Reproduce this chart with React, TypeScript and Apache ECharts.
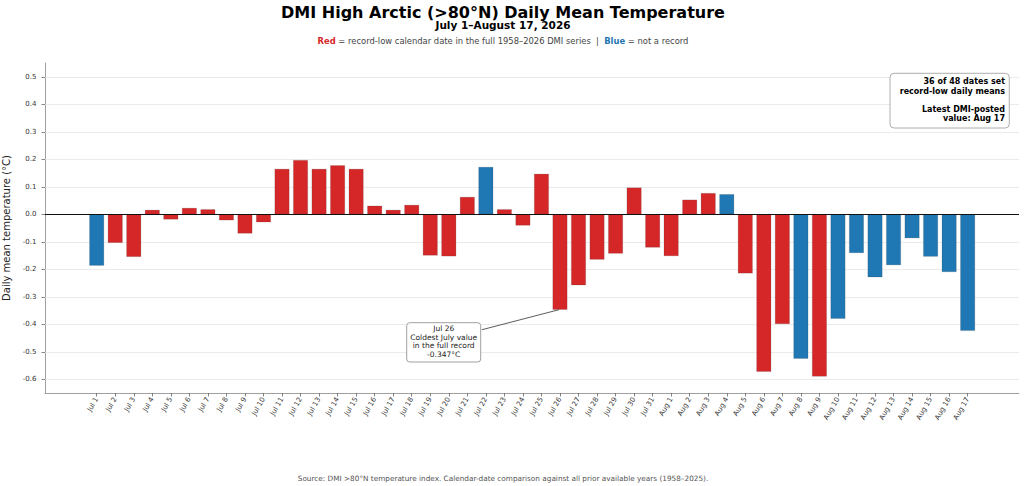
import React, { useEffect, useRef } from "react";
import * as echarts from "echarts";

const categories: string[] = [
  "Jul 1", "Jul 2", "Jul 3", "Jul 4", "Jul 5", "Jul 6", "Jul 7", "Jul 8", "Jul 9", "Jul 10",
  "Jul 11", "Jul 12", "Jul 13", "Jul 14", "Jul 15", "Jul 16", "Jul 17", "Jul 18", "Jul 19", "Jul 20",
  "Jul 21", "Jul 22", "Jul 23", "Jul 24", "Jul 25", "Jul 26", "Jul 27", "Jul 28", "Jul 29", "Jul 30",
  "Jul 31", "Aug 1", "Aug 2", "Aug 3", "Aug 4", "Aug 5", "Aug 6", "Aug 7", "Aug 8", "Aug 9",
  "Aug 10", "Aug 11", "Aug 12", "Aug 13", "Aug 14", "Aug 15", "Aug 16", "Aug 17",
];

const meanTemps: number[] = [
  -0.187, -0.104, -0.155, 0.016, -0.019, 0.023, 0.018, -0.022, -0.07, -0.029,
  0.165, 0.197, 0.165, 0.178, 0.165, 0.031, 0.016, 0.034, -0.15, -0.153,
  0.063, 0.172, 0.018, -0.041, 0.147, -0.347, -0.258, -0.165, -0.143, 0.097,
  -0.121, -0.152, 0.053, 0.077, 0.073, -0.215, -0.573, -0.399, -0.525, -0.59,
  -0.38, -0.141, -0.229, -0.185, -0.087, -0.154, -0.21, -0.424,
];

// 1 = record-low calendar date (red), 0 = not a record (blue)
const isRecordLow: number[] = [
  0, 1, 1, 1, 1, 1, 1, 1, 1, 1,
  1, 1, 1, 1, 1, 1, 1, 1, 1, 1,
  1, 0, 1, 1, 1, 1, 1, 1, 1, 1,
  1, 1, 1, 1, 0, 1, 1, 1, 0, 1,
  0, 0, 0, 0, 0, 0, 0, 0,
];

const yTicks: number[] = [-0.6, -0.5, -0.4, -0.3, -0.2, -0.1, 0, 0.1, 0.2, 0.3, 0.4, 0.5];

const annotatedIndex = 25; // Jul 26

const RED = "#d62728";
const BLUE = "#1f77b4";
const FONT = "DejaVu Sans";

export default function App() {
  const ref = useRef<HTMLDivElement>(null);

  useEffect(() => {
    if (!ref.current) return;
    const chart = echarts.init(ref.current, undefined, { renderer: "svg" });
    const indices = categories.map((_, i) => i);

    const barData = meanTemps.map((v, i) => ({
      value: [i, v],
      itemStyle: { color: isRecordLow[i] ? RED : BLUE },
    }));

    const option: any = {
      animation: false,
      backgroundColor: "#ffffff",
      textStyle: { fontFamily: FONT },
      grid: {
        left: 45,
        right: 5,
        top: 63,
        bottom: 93,
        containLabel: false,
        outerBoundsMode: "none",
      },
      xAxis: {
        type: "value",
        min: -2.79,
        max: 49.77,
        splitLine: { show: false },
        axisLine: { show: true, onZero: false, lineStyle: { color: "#888", width: 0.8 } },
        axisTick: {
          show: true,
          customValues: indices,
          length: 3.5,
          lineStyle: { color: "#666", width: 0.8 },
        },
        axisLabel: {
          customValues: indices,
          formatter: (v: number) => categories[Math.round(v)] ?? "",
          rotate: 60,
          fontSize: 7,
          color: "#333",
          fontFamily: FONT,
          margin: 5,
        },
      },
      yAxis: {
        type: "value",
        min: -0.65,
        max: 0.55,
        name: "Daily mean temperature (°C)",
        nameLocation: "middle",
        nameRotate: 90,
        nameGap: 25,
        nameTextStyle: { fontSize: 10, color: "#222", fontFamily: FONT },
        splitLine: { show: false },
        axisLine: { show: true, onZero: false, lineStyle: { color: "#888", width: 0.8 } },
        axisTick: {
          show: true,
          customValues: yTicks,
          length: 3.5,
          lineStyle: { color: "#666", width: 0.8 },
        },
        axisLabel: {
          customValues: yTicks,
          formatter: (v: number) => v.toFixed(1),
          fontSize: 7,
          color: "#333",
          fontFamily: FONT,
          margin: 8.5,
        },
      },
      series: [
        {
          type: "line",
          data: [],
          z: 1,
          silent: true,
          markLine: {
            z: 1,
            silent: true,
            symbol: ["none", "none"],
            label: { show: false },
            lineStyle: { color: "#e6e6e6", width: 0.8, type: "solid" },
            data: yTicks.filter((t) => t !== 0).map((t) => ({ yAxis: t })),
          },
        },
        {
          type: "bar",
          data: barData,
          barWidth: 14.8,
          z: 2,
          itemStyle: { borderColor: "rgba(60,60,60,0.35)", borderWidth: 0.5 },
        },
        {
          type: "line",
          data: [],
          z: 4,
          silent: true,
          markLine: {
            z: 4,
            silent: true,
            symbol: ["none", "none"],
            label: { show: false },
            lineStyle: { color: "#111", width: 1, type: "solid" },
            data: [{ yAxis: 0 }],
          },
        },
        {
          type: "line",
          data: [],
          z: 5,
          silent: true,
          markLine: {
            z: 5,
            silent: true,
            symbol: ["none", "arrow"],
            symbolSize: [0, 6],
            label: { show: false },
            lineStyle: { color: "#333", width: 0.8, type: "solid" },
            data: [
              [
                { coord: [20.78, -0.42] },
                { coord: [annotatedIndex - 0.05, meanTemps[annotatedIndex]] },
              ],
            ],
          },
        },
      ],
      graphic: [
        {
          type: "text",
          z: 10,
          style: {
            text: "DMI High Arctic (>80°N) Daily Mean Temperature",
            x: 503,
            y: 12.5,
            align: "center",
            verticalAlign: "middle",
            fontFamily: FONT,
            fontWeight: "bold",
            fontSize: 16,
            fill: "#000",
          },
        },
        {
          type: "text",
          z: 11,
          style: {
            text: "July 1–August 17, 2026",
            x: 503,
            y: 25,
            align: "center",
            verticalAlign: "middle",
            fontFamily: FONT,
            fontWeight: "bold",
            fontSize: 10.5,
            fill: "#000",
          },
        },
        {
          type: "text",
          z: 10,
          style: {
            text: "{r|Red}{g| = record-low calendar date in the full 1958–2026 DMI series  |  }{b|Blue}{g| = not a record}",
            x: 503,
            y: 40.5,
            align: "center",
            verticalAlign: "middle",
            fontFamily: FONT,
            fontSize: 8.4,
            rich: {
              r: { fill: RED, fontWeight: "bold", fontSize: 8.4, fontFamily: FONT },
              b: { fill: BLUE, fontWeight: "bold", fontSize: 8.4, fontFamily: FONT },
              g: { fill: "#444", fontSize: 8.4, fontFamily: FONT },
            },
          },
        },
        {
          type: "rect",
          z: 10,
          shape: { x: 890, y: 73.3, width: 119.3, height: 54.7, r: 4 },
          style: { fill: "#fff", stroke: "#999", lineWidth: 0.8 },
        },
        {
          type: "text",
          z: 11,
          style: {
            text: "36 of 48 dates set\nrecord-low daily means\n\nLatest DMI-posted\nvalue: Aug 17",
            x: 1005,
            y: 100.2,
            align: "right",
            verticalAlign: "middle",
            fontFamily: FONT,
            fontWeight: "bold",
            fontSize: 8,
            lineHeight: 9.2,
            fill: "#000",
          },
        },
        {
          type: "rect",
          z: 10,
          shape: { x: 406.7, y: 322.7, width: 74, height: 39.3, r: 3 },
          style: { fill: "#fff", stroke: "#888", lineWidth: 0.8 },
        },
        {
          type: "text",
          z: 11,
          style: {
            text: "Jul 26\nColdest July value\nin the full record\n-0.347°C",
            x: 443.7,
            y: 341.5,
            align: "center",
            verticalAlign: "middle",
            fontFamily: FONT,
            fontSize: 7.5,
            lineHeight: 8.6,
            fill: "#222",
          },
        },
        {
          type: "text",
          z: 10,
          style: {
            text: "Source: DMI >80°N temperature index. Calendar-date comparison against all prior available years (1958–2025).",
            x: 503,
            y: 478,
            align: "center",
            verticalAlign: "middle",
            fontFamily: FONT,
            fontSize: 7.3,
            fill: "#555",
          },
        },
      ],
    };

    chart.setOption(option);
    return () => {
      chart.dispose();
    };
  }, []);

  return (
    <div
      ref={ref}
      style={{ position: "fixed", left: 0, top: 0, width: 1024, height: 486, background: "#fff" }}
    />
  );
}
